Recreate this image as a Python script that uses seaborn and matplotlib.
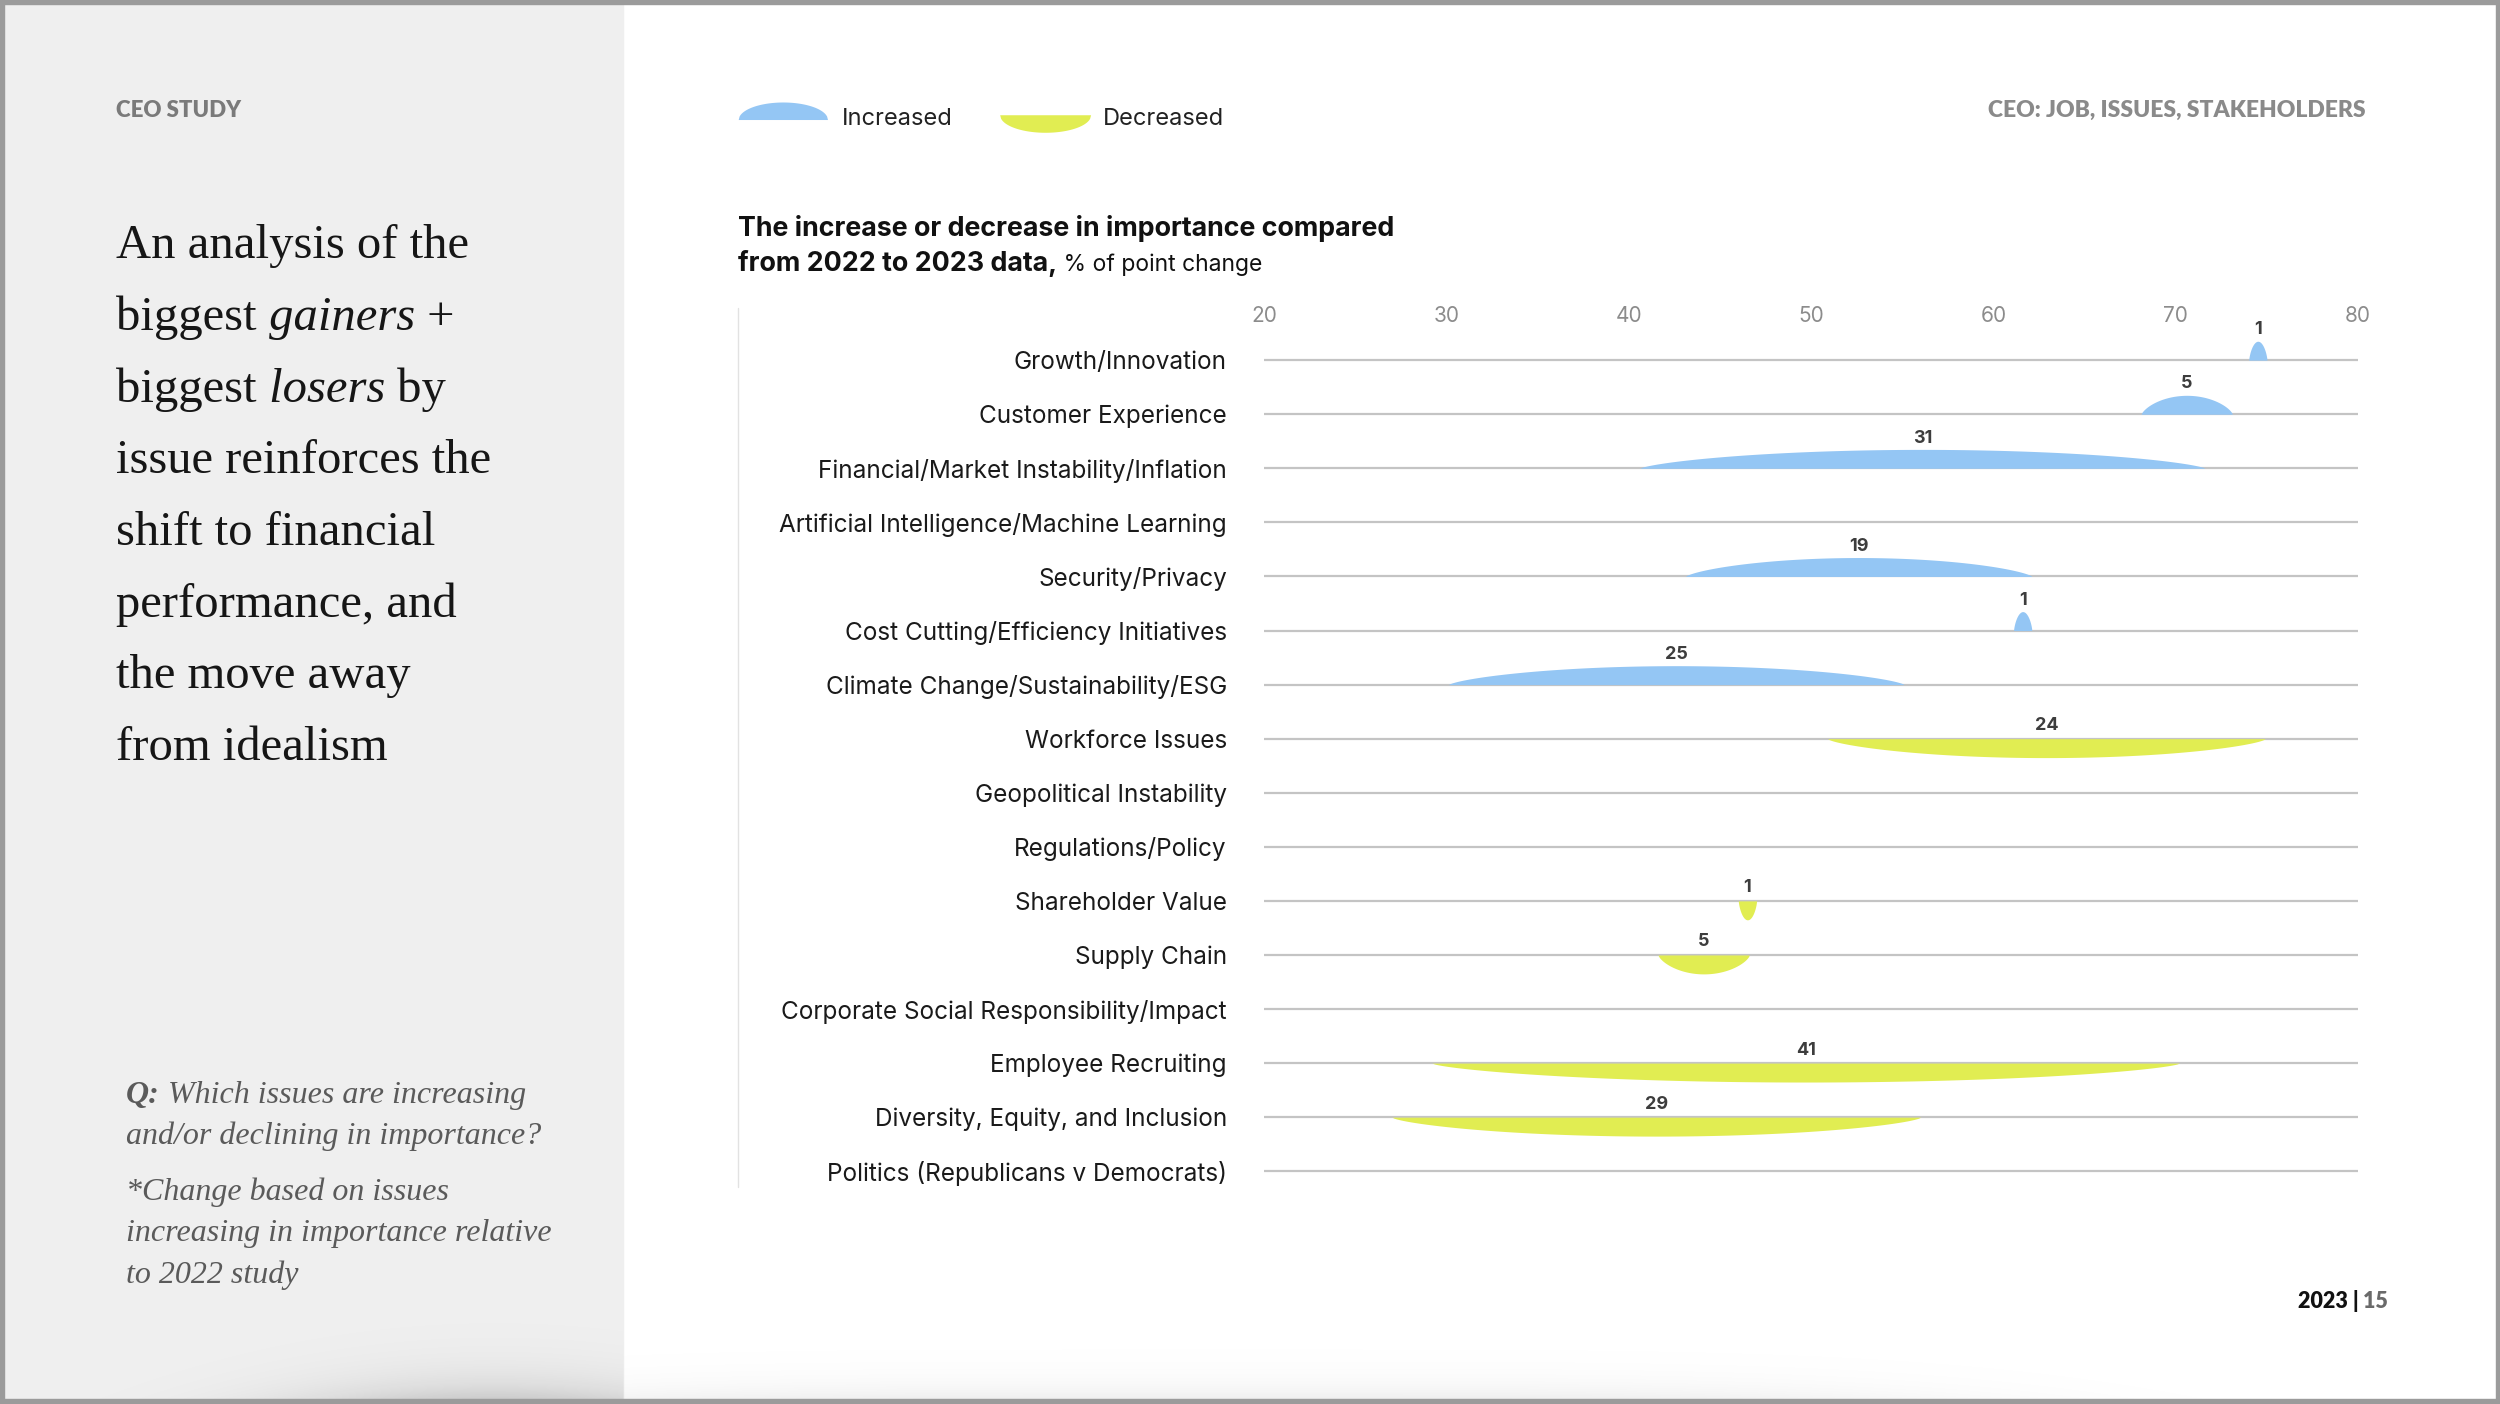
import numpy as np
import matplotlib.pyplot as plt
import seaborn as sns
from matplotlib.patches import Rectangle

# données
issues = ["Growth/Innovation", "Customer Experience", "Financial/Market Instability/Inflation",
          "Artificial Intelligence/Machine Learning", "Security/Privacy",
          "Cost Cutting/Efficiency Initiatives", "Climate Change/Sustainability/ESG",
          "Workforce Issues", "Geopolitical Instability", "Regulations/Policy",
          "Shareholder Value", "Supply Chain", "Corporate Social Responsibility/Impact",
          "Employee Recruiting", "Diversity, Equity, and Inclusion",
          "Politics (Republicans v Democrats)"]
point_change = [1, 5, 31, 0, 19, 1, 25, -24, 0, 0, -1, -5, 0, -41, -29, 0]
centre = [74.5, 70.6, 56.1, np.nan, 52.6, 61.6, 42.6, 62.9, np.nan, np.nan,
          46.5, 44.1, np.nan, 49.7, 41.5, np.nan]
x_ticks = [20, 30, 40, 50, 60, 70, 80]

BLUE = "#94c6f4"
YELLOW = "#e1ed52"
SERIF = "Liberation Serif"
SANS = "Inter"

sns.set_theme(style="white")
plt.rcParams['font.family'] = [SANS, 'DejaVu Sans']

W, H = 1568, 881  # repère de mise en page (pixels de la maquette)
fig = plt.figure(figsize=(25, 14.04), dpi=100, facecolor="white")

# fond : panneau gauche, ombres, cadre
bg = fig.add_axes([0, 0, 1, 1], zorder=0)
bg.set_xlim(0, W)
bg.set_ylim(H, 0)
bg.axis("off")
bg.add_patch(Rectangle((3, 0), 388, H, color="#efefef", zorder=0))

yy, xx = np.mgrid[0:H, 0:W].astype(float)
d = np.clip(878 - yy, 0, None)
shadow = np.where(xx < 391, 0.16 * np.exp(-d / 13) * np.exp(-((xx - 310) / 130) ** 2), 0)
shadow += np.where(xx >= 391, 0.07 * np.exp(-d / 11) * np.exp(-((xx - 760) / 480) ** 4), 0)
rgba = np.zeros((H, W, 4))
rgba[..., 3] = shadow
bg.imshow(rgba, extent=(0, W, H, 0), aspect="auto", zorder=1, interpolation="bilinear")
for r in [(0, 0, W, 2.5), (0, 878, W, 3), (0, 0, 2.5, H), (1565.5, 0, 2.5, H)]:
    bg.add_patch(Rectangle(r[:2], r[2], r[3], color="#9b9b9b", zorder=5))

renderer = fig.canvas.get_renderer()


def rich_line(x, y, pieces, **kw):
    # enchaîne des morceaux de texte de styles différents sur une même ligne
    for text, props in pieces:
        t = bg.text(x, y, text, va="baseline", ha="left", zorder=6, **{**kw, **props})
        bb = t.get_window_extent(renderer=renderer)
        x = bg.transData.inverted().transform((bb.x1, bb.y0))[0]


# en-têtes
bg.text(73, 69.5, "CEO STUDY", family=["Lato", "DejaVu Sans"], fontweight="heavy",
        fontsize=16, color="#7a7a7a", va="center", zorder=6)
bg.text(1484, 69.5, "CEO: JOB, ISSUES, STAKEHOLDERS", family=["Lato", "DejaVu Sans"],
        fontweight="heavy", fontsize=16.5, color="#8a8a8a", va="center", ha="right", zorder=6)

# titre à gauche
title_lines = [
    [("An analysis of the", {})],
    [("biggest", {}), (" gainers", {"style": "italic"}), (" +", {})],
    [("biggest", {}), (" losers", {"style": "italic"}), (" by", {})],
    [("issue reinforces the", {})],
    [("shift to financial", {})],
    [("performance, and", {})],
    [("the move away", {})],
    [("from idealism", {})],
]
for k, pieces in enumerate(title_lines):
    rich_line(73, 162 + 45 * k, pieces, family=[SERIF, "DejaVu Serif"], fontsize=35, color="#161616")

q_kw = dict(family=[SERIF, "DejaVu Serif"], fontsize=23, color="#5a5a5a", style="italic")
rich_line(79, 692, [("Q:", {"fontweight": "bold"}), (" Which issues are increasing", {})], **q_kw)
rich_line(79, 718, [("and/or declining in importance?", {})], **q_kw)
rich_line(79, 753, [("*Change based on issues", {})], **q_kw)
rich_line(79, 779, [("increasing in importance relative", {})], **q_kw)
rich_line(79, 805, [("to 2022 study", {})], **q_kw)

# légende
lx = np.linspace(-1, 1, 100)
lh = np.sqrt(1 - lx ** 2)
bg.fill_between(463 + (lx + 1) * 28, 75, 75 - 11 * lh, color=BLUE, lw=0, zorder=6)
bg.text(528, 74.5, "Increased", fontsize=17, color="#222222", va="center", zorder=6)
bg.fill_between(627 + (lx + 1) * 28.5, 72, 72 + 11 * lh, color=YELLOW, lw=0, zorder=6)
bg.text(692, 74.5, "Decreased", fontsize=17, color="#222222", va="center", zorder=6)

# titre du graphique
bg.text(463, 148, "The increase or decrease in importance compared", fontsize=19.3,
        fontweight="bold", color="#111111", va="baseline", zorder=6)
rich_line(463, 170, [("from 2022 to 2023 data,", {"fontweight": "bold", "fontsize": 19.3}),
                     (" % of point change", {"fontsize": 16.5})], color="#111111")
bg.plot([463, 463], [193, 745], color="#e2e2e2", lw=1, zorder=6)

# pied de page
rich_line(1441, 821, [("2023 |", {"color": "#111111"}), (" 15", {"color": "#6a6a6a"})],
          family=["Lato", "DejaVu Sans"], fontweight="heavy", fontsize=15.5)

# axe principal
row0, step = 226, 33.93
top_px, bot_px = 206, 760
ax = fig.add_axes([793 / W, 1 - bot_px / H, (1479 - 793) / W, (bot_px - top_px) / H], zorder=2)
ax.set_facecolor("none")
ax.set_xlim(20, 80)
ax.set_ylim((bot_px - row0) / step, (top_px - row0) / step)

rows = np.arange(len(issues))
ax.hlines(rows, 20, 80, color="#c4c4c4", lw=1.6, zorder=1)

HUMP = 0.35
for i, (v, c) in enumerate(zip(point_change, centre)):
    if v == 0:
        continue
    half = abs(v) / 2
    x = np.linspace(c - half, c + half, 300)
    h = np.clip(1 - ((x - c) / half) ** 2, 0, None) ** 0.7
    if v > 0:
        ax.fill_between(x, i, i - HUMP * h, color=BLUE, lw=0, zorder=3)
        ly = i - 0.56
    else:
        ax.fill_between(x, i, i + HUMP * h, color=YELLOW, lw=0, zorder=3)
        ly = i - 0.24
    ax.text(c, ly, str(abs(v)), ha="center", va="center", fontsize=13,
            fontweight="bold", color="#3d3d3d", zorder=4)

ax.set_yticks(rows)
ax.set_yticklabels(issues, fontsize=17.5, color="#1a1a1a")
ax.xaxis.tick_top()
ax.set_xticks(x_ticks)
ax.set_xticklabels([str(t) for t in x_ticks])
ax.tick_params(axis="y", length=0, pad=27)
ax.tick_params(axis="x", length=0, pad=2, labelsize=15, labelcolor="#8c8c8c")
sns.despine(ax=ax, left=True, bottom=True, top=True, right=True)
ax.grid(False)

fig.savefig("out.png", dpi=100, facecolor="white")
